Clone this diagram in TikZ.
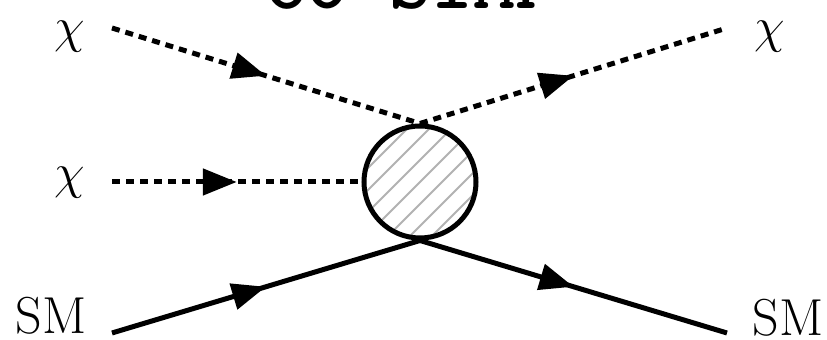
\documentclass[tikz,border=0pt]{standalone}
\usepackage{fontspec}
\usetikzlibrary{arrows.meta,decorations.markings}
\begin{document}
\begin{tikzpicture}[x=0.5pt,y=-0.5pt,
  prop/.style={line width=2.5pt, postaction={decorate},
    decoration={markings, mark=at position 0.5 with {\arrow[solid]{Triangle[length=17pt,width=13pt]}}}},
  fermion/.style={prop},
  scalar/.style={prop, dash pattern=on 4pt off 3pt},
  smlab/.style={font=\fontsize{26}{30}\selectfont, inner sep=0pt},
  chilab/.style={font=\fontsize{28}{32}\selectfont, inner sep=0pt},
  hatch/.style={draw=black!30, line width=1pt}]
\useasboundingbox (0,0) rectangle (827,340);
\node[anchor=base, inner sep=0pt, font=\ttfamily\bfseries\fontsize{40}{44}\selectfont] (title) at (411,9) {Co-SIMP};
\node[circle, draw, line width=2.5pt, minimum size=56pt, inner sep=0pt, fill=white,
  path picture={\foreach \i in {-198,-176,...,198} \draw[hatch] (\i-120,120) -- (\i+120,-120);}] (blob) at (420,182) {};
\coordinate (tl) at (112,28);
\coordinate (tr) at (727,28);
\coordinate (ml) at (112,182);
\coordinate (bl) at (112,333);
\coordinate (br) at (727,333);
\draw[scalar] (tl) -- (blob.north);
\draw[scalar] (blob.north) -- (tr);
\draw[scalar] (ml) -- (blob.west);
\draw[fermion] (bl) -- (blob.south);
\draw[fermion] (blob.south) -- (br);
\node[chilab] (chi1) at (70,37) {$\chi$};
\node[chilab] (chi2) at (70,183) {$\chi$};
\node[chilab] (chi3) at (770,37) {$\chi$};
\node[smlab] (sm1) at (51,316) {SM};
\node[smlab] (sm2) at (788,318) {SM};
\end{tikzpicture}
\end{document}
